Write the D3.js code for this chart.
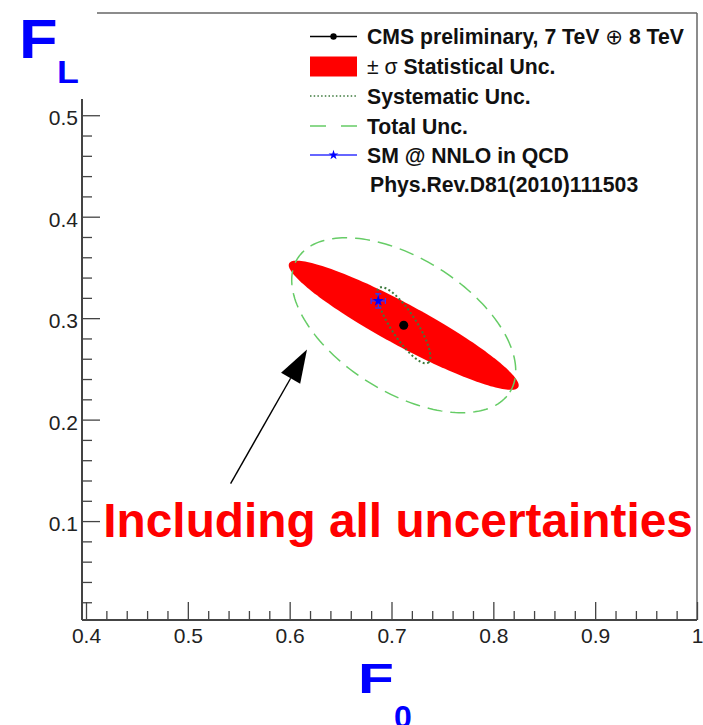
<!DOCTYPE html>
<html>
<head>
<meta charset="utf-8">
<script src="https://cdn.jsdelivr.net/npm/d3@7"></script>
<style>
  body { margin: 0; background: #fff; }
  svg { font-family: "Liberation Sans", Arial, sans-serif; }
</style>
</head>
<body>
<div id="chart"></div>
<script>
// Valores

const xMajor = [0.4, 0.5, 0.6, 0.7, 0.8, 0.9, 1.0];
const xLabels = ["0.4", "0.5", "0.6", "0.7", "0.8", "0.9", "1"];
const yMajor = [0.1, 0.2, 0.3, 0.4, 0.5];
const yLabels = ["0.1", "0.2", "0.3", "0.4", "0.5"];

// medida CMS (F0, FL)
const cmsPoint = [0.712, 0.293];
// prediccion SM (F0, FL) y sus errores
const smPoint = [0.687, 0.317];
const smErr = [0.007, 0.007];

// elipses: centro, semiejes (unidades de datos), angulo en grados
const statEllipse = [0.712, 0.293, 0.1280, 0.0205, -28.5];
const systEllipse = [0.712, 0.293, 0.0440, 0.0125, -57.0];
const totalEllipse = [0.712, 0.293, 0.1233, 0.0658, -32.3];

// flecha de anotacion
const arrowFrom = [0.542, 0.137];
const arrowTo = [0.617, 0.269];
const noteText = "Including all uncertainties";
const notePos = [0.4170, 0.084];

const legendRows = [
  "CMS preliminary, 7 TeV \u2295 8 TeV",
  "\u00b1 \u03c3 Statistical Unc.",
  "Systematic Unc.",
  "Total Unc.",
  "SM @ NNLO in QCD",
  "Phys.Rev.D81(2010)111503"
];

const WIDTH = 703;
const HEIGHT = 725;

const svg = d3.select("#chart")
  .append("svg")
  .attr("width", WIDTH)
  .attr("height", HEIGHT);

// Escalas
const x = d3.scaleLinear().domain([0.4, 1.0]).range([86, 697]);
const y = d3.scaleLinear().domain([0.0025, 0.516]).range([620, 99]);

const axisColor = "#444";

// Marco
svg.append("line")
  .attr("x1", 97).attr("x2", x(1.0))
  .attr("y1", 13).attr("y2", 13)
  .attr("stroke", "#666").attr("stroke-width", 1.5);
svg.append("line")
  .attr("x1", x(1.0)).attr("x2", x(1.0))
  .attr("y1", 13).attr("y2", y(0.0025))
  .attr("stroke", "#666").attr("stroke-width", 1.5);

// Eje X
const xMinor = d3.range(0.42, 1.0, 0.02).filter(v => Math.abs(v * 10 - Math.round(v * 10)) > 1e-6);
const xaxis = svg.append("g")
  .attr("transform", `translate(0, ${y(0.0025)})`);
xaxis.call(d3.axisBottom(x).tickValues(xMajor).tickSizeInner(-18).tickSizeOuter(0)
  .tickPadding(4).tickFormat((d, i) => xLabels[i]));
xaxis.append("g").call(d3.axisBottom(x).tickValues(xMinor).tickSizeInner(-9).tickSizeOuter(0).tickFormat(""));
xaxis.selectAll(".domain").remove();
xaxis.selectAll("line").attr("stroke", axisColor).attr("stroke-width", 1.3);
xaxis.selectAll("text")
  .attr("font-size", 21).attr("fill", "#222")
  .attr("font-family", "'Liberation Sans', Arial, sans-serif")
  .attr("dy", "0.9em");
svg.append("line")
  .attr("x1", x(0.4) - 4).attr("x2", x(1.0))
  .attr("y1", y(0.0025)).attr("y2", y(0.0025))
  .attr("stroke", axisColor).attr("stroke-width", 2);

// Eje Y
const yMinor = d3.range(0.02, 0.51, 0.02).filter(v => Math.abs(v * 10 - Math.round(v * 10)) > 1e-6);
const yaxis = svg.append("g")
  .attr("transform", `translate(${x(0.4) - 4}, 0)`);
yaxis.call(d3.axisLeft(y).tickValues(yMajor).tickSizeInner(-18).tickSizeOuter(0)
  .tickPadding(4).tickFormat((d, i) => yLabels[i]));
yaxis.append("g").call(d3.axisLeft(y).tickValues(yMinor).tickSizeInner(-10).tickSizeOuter(0).tickFormat(""));
yaxis.selectAll(".domain").remove();
yaxis.selectAll("line").attr("stroke", axisColor).attr("stroke-width", 1.3);
yaxis.selectAll("text")
  .attr("font-size", 21).attr("fill", "#222")
  .attr("font-family", "'Liberation Sans', Arial, sans-serif")
  .attr("dy", "0.45em");
svg.append("line")
  .attr("x1", x(0.4) - 4).attr("x2", x(0.4) - 4)
  .attr("y1", y(0.0025)).attr("y2", y(0.516))
  .attr("stroke", axisColor).attr("stroke-width", 2);

// Titulos de ejes
svg.append("text")
  .attr("transform", "translate(19, 58) scale(1.15, 1)")
  .attr("font-size", 55).attr("font-weight", "bold").attr("fill", "#0000ff")
  .text("F");
svg.append("text")
  .attr("transform", "translate(57, 83) scale(1.12, 1)")
  .attr("font-size", 32).attr("font-weight", "bold").attr("fill", "#0000ff")
  .text("L");
svg.append("text")
  .attr("transform", "translate(358, 693) scale(1.4, 1)")
  .attr("font-size", 42).attr("font-weight", "bold").attr("fill", "#0000ff")
  .text("F");
svg.append("text")
  .attr("transform", "translate(394, 728)")
  .attr("font-size", 32).attr("font-weight", "bold").attr("fill", "#0000ff")
  .text("0");

// Elipses
function ellipsePath(e) {
  const [cx, cy, a, b, ang] = e;
  const t = ang * Math.PI / 180;
  const pts = d3.range(0, 2 * Math.PI, Math.PI / 90).map(s => [
    cx + a * Math.cos(s) * Math.cos(t) - b * Math.sin(s) * Math.sin(t),
    cy + a * Math.cos(s) * Math.sin(t) + b * Math.sin(s) * Math.cos(t)
  ]);
  return d3.line().x(d => x(d[0])).y(d => y(d[1])).curve(d3.curveLinearClosed)(pts);
}

const plot = svg.append("g").attr("id", "plot");

plot.append("path")
  .attr("d", ellipsePath(statEllipse))
  .attr("fill", "#ff0000");

plot.append("path")
  .attr("d", ellipsePath(totalEllipse))
  .attr("fill", "none")
  .attr("stroke", "#66cc66")
  .attr("stroke-width", 1.5)
  .attr("stroke-dasharray", "15,8");

plot.append("path")
  .attr("d", ellipsePath(systEllipse))
  .attr("fill", "none")
  .attr("stroke", "#3d7a3d")
  .attr("stroke-width", 2)
  .attr("stroke-dasharray", "2,2.5");

// Punto CMS
plot.append("circle")
  .attr("cx", x(cmsPoint[0])).attr("cy", y(cmsPoint[1]))
  .attr("r", 4.5).attr("fill", "#000");

// Punto SM con barras de error
const smG = plot.append("g").attr("stroke", "#3333ff").attr("stroke-width", 1.3);
smG.append("line")
  .attr("x1", x(smPoint[0] - smErr[0])).attr("x2", x(smPoint[0] + smErr[0]))
  .attr("y1", y(smPoint[1])).attr("y2", y(smPoint[1]));
smG.append("line")
  .attr("x1", x(smPoint[0])).attr("x2", x(smPoint[0]))
  .attr("y1", y(smPoint[1] - smErr[1])).attr("y2", y(smPoint[1] + smErr[1]));
[-1, 1].forEach(s => {
  smG.append("line")
    .attr("x1", x(smPoint[0] + s * smErr[0])).attr("x2", x(smPoint[0] + s * smErr[0]))
    .attr("y1", y(smPoint[1]) - 3).attr("y2", y(smPoint[1]) + 3);
  smG.append("line")
    .attr("x1", x(smPoint[0]) - 3).attr("x2", x(smPoint[0]) + 3)
    .attr("y1", y(smPoint[1] + s * smErr[1])).attr("y2", y(smPoint[1] + s * smErr[1]));
});
plot.append("path")
  .attr("d", d3.symbol().type(d3.symbolStar).size(40)())
  .attr("transform", `translate(${x(smPoint[0])}, ${y(smPoint[1])})`)
  .attr("fill", "#0000ff");

// Flecha
const ax1 = x(arrowFrom[0]), ay1 = y(arrowFrom[1]);
const ax2 = x(arrowTo[0]), ay2 = y(arrowTo[1]);
const ang = Math.atan2(ay2 - ay1, ax2 - ax1);
const headLen = 33, headHalf = 11;
const bx = ax2 - headLen * Math.cos(ang), by = ay2 - headLen * Math.sin(ang);
svg.append("line")
  .attr("x1", ax1).attr("y1", ay1).attr("x2", bx).attr("y2", by)
  .attr("stroke", "#000").attr("stroke-width", 1.4);
svg.append("path")
  .attr("d", `M${ax2},${ay2}L${bx + headHalf * Math.sin(ang)},${by - headHalf * Math.cos(ang)}` +
             `L${bx - headHalf * Math.sin(ang)},${by + headHalf * Math.cos(ang)}Z`)
  .attr("fill", "#000");

// Texto de anotacion
svg.append("text")
  .attr("x", x(notePos[0])).attr("y", y(notePos[1]))
  .attr("font-size", 47.8).attr("font-weight", "bold").attr("fill", "#ff0000")
  .text(noteText);

// Leyenda
const legend = svg.append("g").attr("id", "legend");
const rowY = [36.5, 66.5, 96, 126, 155, 184];
const lx1 = 310, lx2 = 357, tx = 367;

legendRows.forEach((t, i) => {
  const txt = legend.append("text")
    .attr("x", i === 5 ? tx + 3 : tx).attr("y", rowY[i] + 7.5)
    .attr("font-size", 21.2).attr("font-weight", "bold").attr("fill", "#111");
  if (i === 0) {
    txt.append("tspan").text("CMS preliminary, 7 TeV ");
    txt.append("tspan").attr("font-weight", "normal").attr("font-family", "DejaVu Sans").text("\u2295");
    txt.append("tspan").text(" 8 TeV");
  } else if (i === 1) {
    txt.append("tspan").attr("font-weight", "normal").text("\u00b1 \u03c3 ");
    txt.append("tspan").text("Statistical Unc.");
  } else {
    txt.text(t);
  }
});

// simbolos de la leyenda
legend.append("line").attr("x1", lx1).attr("x2", lx2).attr("y1", rowY[0]).attr("y2", rowY[0])
  .attr("stroke", "#000").attr("stroke-width", 1.3);
legend.append("circle").attr("cx", (lx1 + lx2) / 2).attr("cy", rowY[0]).attr("r", 3.2).attr("fill", "#000");

legend.append("rect").attr("x", lx1).attr("y", rowY[1] - 10).attr("width", lx2 - lx1).attr("height", 20)
  .attr("fill", "#ff0000");

legend.append("line").attr("x1", lx1).attr("x2", lx2).attr("y1", rowY[2]).attr("y2", rowY[2])
  .attr("stroke", "#3d7a3d").attr("stroke-width", 1.5).attr("stroke-dasharray", "1.5,2.2");

legend.append("line").attr("x1", lx1).attr("x2", lx2).attr("y1", rowY[3]).attr("y2", rowY[3])
  .attr("stroke", "#66cc66").attr("stroke-width", 1.5).attr("stroke-dasharray", "16,15");

legend.append("line").attr("x1", lx1).attr("x2", lx2).attr("y1", rowY[4]).attr("y2", rowY[4])
  .attr("stroke", "#3333ff").attr("stroke-width", 1.3);
legend.append("path")
  .attr("d", d3.symbol().type(d3.symbolStar).size(30)())
  .attr("transform", `translate(${(lx1 + lx2) / 2}, ${rowY[4]})`)
  .attr("fill", "#0000ff");
</script>
</body>
</html>
